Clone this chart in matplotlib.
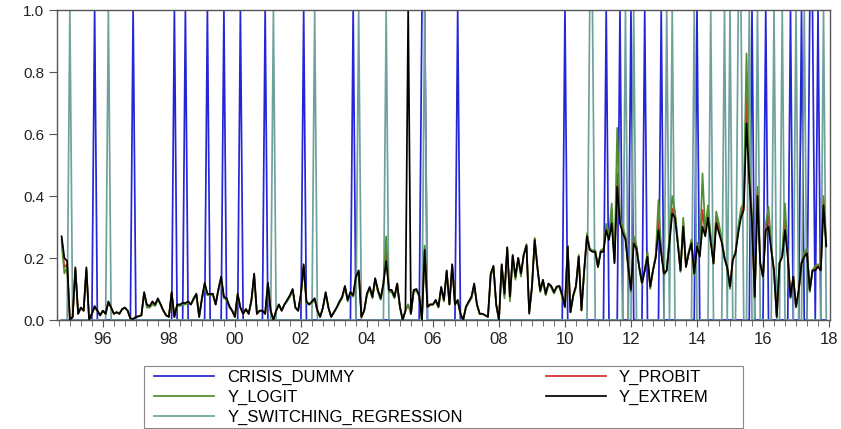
import numpy as np
import matplotlib.pyplot as plt
from matplotlib.patches import Rectangle
from matplotlib.ticker import FixedLocator, MultipleLocator

# monthly sample 1994M10 - 2017M12
start_year = 1994
start_month = 10

crisis_dummy = [
    0, 0, 0,                                        # 1994 Q4
    0, 0, 0, 0, 0, 0, 0, 0, 0, 1, 0, 0,             # 1995
    0, 0, 0, 0, 0, 0, 0, 0, 0, 0, 0, 1,             # 1996
    0, 0, 0, 0, 0, 0, 0, 0, 0, 0, 0, 0,             # 1997
    0, 0, 1, 0, 0, 0, 1, 0, 0, 0, 0, 0,             # 1998
    0, 0, 1, 0, 0, 0, 0, 0, 1, 0, 0, 0,             # 1999
    0, 0, 1, 0, 0, 0, 0, 0, 0, 0, 0, 1,             # 2000
    0, 0, 0, 0, 0, 0, 0, 0, 0, 0, 0, 0,             # 2001
    0, 1, 0, 0, 0, 0, 0, 0, 0, 0, 0, 0,             # 2002
    0, 0, 0, 0, 0, 0, 0, 1, 0, 0, 0, 0,             # 2003
    0, 0, 0, 0, 0, 0, 0, 0, 0, 0, 0, 0,             # 2004
    0, 0, 0, 0, 0, 0, 0, 0, 1, 1, 0, 0,             # 2005
    0, 0, 0, 0, 0, 0, 0, 0, 0, 1, 0, 0,             # 2006
    0, 0, 0, 0, 0, 0, 0, 0, 0, 0, 0, 0,             # 2007
    0, 0, 0, 0, 0, 0, 0, 0, 0, 0, 0, 0,             # 2008
    0, 0, 0, 0, 0, 0, 0, 0, 0, 0, 0, 0,             # 2009
    1, 0, 0, 0, 0, 0, 0, 0, 0, 0, 0, 0,             # 2010
    0, 0, 0, 1, 0, 0, 0, 0, 1, 0, 0, 0,             # 2011
    1, 0, 0, 0, 0, 1, 0, 0, 0, 0, 0, 1,             # 2012
    0, 0, 0, 0, 0, 0, 0, 0, 0, 0, 0, 0,             # 2013
    1, 0, 0, 0, 0, 0, 0, 0, 0, 0, 0, 0,             # 2014
    0, 0, 0, 0, 0, 0, 0, 0, 1, 0, 0, 0,             # 2015
    0, 1, 0, 0, 0, 0, 0, 0, 0, 0, 1, 0,             # 2016
    0, 0, 1, 0, 0, 1, 1, 0, 1, 0, 0, 0,             # 2017
]

y_switching = [
    0, 0, 0,
    1, 0, 0, 0, 0, 0, 0, 0, 0, 0, 0, 0,
    0, 0, 1, 0, 0, 0, 0, 0, 0, 0, 0, 0,
    0, 0, 0, 0, 0, 0, 0, 0, 0, 0, 0, 0,
    0, 0, 0, 0, 0, 0, 0, 0, 0, 0, 0, 0,
    0, 0, 0, 0, 0, 0, 0, 0, 0, 0, 0, 0,
    0, 0, 0, 0, 0, 0, 0, 0, 0, 0, 0, 0,
    0, 0, 1, 0, 0, 0, 0, 0, 0, 0, 0, 0,
    0, 0, 0, 0, 0, 1, 0, 0, 0, 0, 0, 0,
    0, 0, 0, 0, 0, 0, 0, 0, 0, 1, 0, 0,
    0, 0, 0, 0, 0, 0, 0, 1, 0, 0, 0, 0,
    0, 0, 0, 0, 0, 0, 0, 0, 0, 1, 0, 0,
    0, 0, 0, 0, 0, 0, 0, 0, 0, 0, 0, 0,
    0, 0, 0, 0, 0, 0, 0, 0, 0, 0, 0, 0,
    0, 0, 0, 0, 0, 0, 0, 0, 0, 0, 0, 0,
    0, 0, 0, 0, 0, 0, 0, 0, 0, 0, 0, 0,
    0, 0, 0, 0, 0, 0, 0, 0, 0, 1, 1, 0,
    0, 0, 0, 0, 0, 0, 0, 0, 0, 0, 1, 0,
    0, 1, 0, 0, 0, 0, 0, 0, 0, 0, 0, 0,
    0, 1, 0, 1, 0, 0, 0, 0, 0, 0, 0, 1,
    0, 0, 0, 0, 0, 1, 0, 0, 0, 0, 1, 0,
    1, 0, 0, 1, 1, 0, 0, 1, 0, 0, 1, 0,
    0, 0, 0, 0, 1, 0, 0, 1, 0, 0, 0, 0,
    1, 0, 0, 1, 0, 0, 0, 0, 0, 0, 1, 0,
]

y_extrem = [
    0.27, 0.20, 0.19,
    0.00, 0.01, 0.17, 0.02, 0.04, 0.03, 0.17, 0.00, 0.02, 0.045, 0.03, 0.015,
    0.03, 0.02, 0.06, 0.04, 0.02, 0.025, 0.02, 0.035, 0.04, 0.03, 0.005, 0.003,
    0.01, 0.012, 0.015, 0.09, 0.05, 0.045, 0.06, 0.05, 0.07, 0.05, 0.03, 0.015,
    0.01, 0.09, 0.01, 0.05, 0.05, 0.055, 0.055, 0.06, 0.05, 0.07, 0.085, 0.01,
    0.07, 0.12, 0.085, 0.083, 0.085, 0.05, 0.10, 0.14, 0.075, 0.07, 0.045, 0.03,
    0.01, 0.085, 0.04, 0.02, 0.035, 0.02, 0.065, 0.15, 0.02, 0.03, 0.03, 0.02,
    0.12, 0.03, 0.00, 0.03, 0.05, 0.03, 0.05, 0.065, 0.08, 0.10, 0.04, 0.03,
    0.085, 0.18, 0.06, 0.05, 0.06, 0.07, 0.03, 0.01, 0.04, 0.09, 0.04, 0.01,
    0.025, 0.04, 0.06, 0.075, 0.11, 0.065, 0.09, 0.08, 0.14, 0.16, 0.01, 0.03,
    0.085, 0.107, 0.075, 0.135, 0.097, 0.07, 0.118, 0.19, 0.097, 0.097, 0.075, 0.118,
    0.043, 0.00, 0.03, 1.00, 0.02, 0.097, 0.10, 0.08, 0.00, 0.226, 0.043, 0.05,
    0.05, 0.065, 0.043, 0.107, 0.065, 0.16, 0.05, 0.18, 0.05, 0.065, 0.02, 0.00,
    0.043, 0.06, 0.075, 0.118, 0.05, 0.02, 0.02, 0.015, 0.01, 0.15, 0.175, 0.05,
    0.00, 0.18, 0.085, 0.235, 0.075, 0.21, 0.14, 0.20, 0.15, 0.21, 0.24, 0.02,
    0.11, 0.258, 0.17, 0.095, 0.13, 0.085, 0.118, 0.11, 0.09, 0.108, 0.11, 0.08,
    0.043, 0.237, 0.025, 0.08, 0.11, 0.204, 0.032, 0.16, 0.27, 0.226, 0.22, 0.22,
    0.172, 0.22, 0.22, 0.29, 0.258, 0.312, 0.183, 0.43, 0.312, 0.28, 0.26, 0.172,
    0.097, 0.247, 0.23, 0.17, 0.12, 0.16, 0.204, 0.108, 0.16, 0.20, 0.29, 0.215,
    0.15, 0.16, 0.25, 0.344, 0.33, 0.247, 0.16, 0.301, 0.172, 0.215, 0.247, 0.15,
    0.237, 0.204, 0.301, 0.27, 0.33, 0.25, 0.183, 0.312, 0.28, 0.25, 0.20, 0.17,
    0.108, 0.194, 0.215, 0.28, 0.33, 0.355, 0.634, 0.452, 0.312, 0.075, 0.40, 0.183,
    0.14, 0.29, 0.30, 0.226, 0.16, 0.01, 0.183, 0.204, 0.29, 0.204, 0.075, 0.14,
    0.043, 0.097, 0.183, 0.204, 0.215, 0.097, 0.16, 0.16, 0.172, 0.16, 0.37, 0.237,
]

y_logit = [
    0.25, 0.15, 0.17,
    0.00, 0.01, 0.16, 0.02, 0.04, 0.03, 0.16, 0.00, 0.02, 0.04, 0.03, 0.015,
    0.03, 0.02, 0.055, 0.04, 0.02, 0.025, 0.02, 0.035, 0.04, 0.03, 0.005, 0.003,
    0.01, 0.012, 0.015, 0.085, 0.04, 0.04, 0.05, 0.045, 0.065, 0.05, 0.03, 0.015,
    0.01, 0.085, 0.01, 0.045, 0.045, 0.05, 0.05, 0.055, 0.05, 0.065, 0.08, 0.01,
    0.065, 0.11, 0.08, 0.08, 0.08, 0.05, 0.095, 0.13, 0.07, 0.065, 0.04, 0.03,
    0.01, 0.08, 0.04, 0.02, 0.035, 0.02, 0.06, 0.14, 0.02, 0.03, 0.03, 0.02,
    0.115, 0.03, 0.00, 0.03, 0.05, 0.03, 0.05, 0.06, 0.075, 0.095, 0.04, 0.03,
    0.08, 0.17, 0.055, 0.05, 0.055, 0.065, 0.03, 0.01, 0.04, 0.085, 0.04, 0.01,
    0.025, 0.04, 0.055, 0.07, 0.105, 0.06, 0.085, 0.075, 0.135, 0.155, 0.01, 0.03,
    0.08, 0.10, 0.07, 0.13, 0.09, 0.065, 0.115, 0.27, 0.09, 0.09, 0.07, 0.115,
    0.04, 0.00, 0.03, 0.05, 0.02, 0.09, 0.095, 0.075, 0.00, 0.24, 0.04, 0.05,
    0.05, 0.06, 0.04, 0.10, 0.06, 0.155, 0.05, 0.175, 0.05, 0.06, 0.02, 0.00,
    0.04, 0.055, 0.07, 0.11, 0.05, 0.02, 0.02, 0.015, 0.01, 0.14, 0.17, 0.05,
    0.00, 0.175, 0.07, 0.23, 0.06, 0.205, 0.13, 0.20, 0.14, 0.21, 0.245, 0.03,
    0.10, 0.265, 0.165, 0.09, 0.125, 0.08, 0.115, 0.105, 0.085, 0.105, 0.105, 0.075,
    0.04, 0.24, 0.025, 0.075, 0.105, 0.21, 0.03, 0.16, 0.28, 0.23, 0.225, 0.225,
    0.17, 0.225, 0.23, 0.31, 0.27, 0.376, 0.19, 0.62, 0.33, 0.30, 0.27, 0.17,
    0.09, 0.27, 0.24, 0.17, 0.115, 0.16, 0.22, 0.10, 0.16, 0.21, 0.387, 0.225,
    0.145, 0.16, 0.27, 0.40, 0.35, 0.26, 0.155, 0.33, 0.17, 0.22, 0.26, 0.145,
    0.25, 0.21, 0.473, 0.29, 0.37, 0.27, 0.18, 0.35, 0.31, 0.26, 0.20, 0.165,
    0.10, 0.195, 0.22, 0.30, 0.36, 0.38, 0.86, 0.50, 0.34, 0.07, 0.43, 0.18,
    0.135, 0.31, 0.366, 0.235, 0.155, 0.01, 0.185, 0.21, 0.376, 0.21, 0.07, 0.135,
    0.04, 0.09, 0.185, 0.22, 0.23, 0.09, 0.16, 0.175, 0.18, 0.16, 0.40, 0.245,
]

y_probit = [
    0.26, 0.17, 0.18,
    0.00, 0.01, 0.165, 0.02, 0.04, 0.03, 0.165, 0.00, 0.02, 0.042, 0.03, 0.015,
    0.03, 0.02, 0.058, 0.04, 0.02, 0.025, 0.02, 0.035, 0.04, 0.03, 0.005, 0.003,
    0.01, 0.012, 0.015, 0.088, 0.045, 0.042, 0.055, 0.048, 0.068, 0.05, 0.03, 0.015,
    0.01, 0.088, 0.01, 0.048, 0.048, 0.052, 0.052, 0.058, 0.05, 0.068, 0.082, 0.01,
    0.068, 0.115, 0.082, 0.082, 0.082, 0.05, 0.098, 0.135, 0.072, 0.068, 0.042, 0.03,
    0.01, 0.082, 0.04, 0.02, 0.035, 0.02, 0.062, 0.145, 0.02, 0.03, 0.03, 0.02,
    0.118, 0.03, 0.00, 0.03, 0.05, 0.03, 0.05, 0.062, 0.078, 0.098, 0.04, 0.03,
    0.082, 0.175, 0.058, 0.05, 0.058, 0.068, 0.03, 0.01, 0.04, 0.088, 0.04, 0.01,
    0.025, 0.04, 0.058, 0.072, 0.108, 0.062, 0.088, 0.078, 0.138, 0.158, 0.01, 0.03,
    0.082, 0.104, 0.072, 0.132, 0.094, 0.068, 0.116, 0.22, 0.094, 0.094, 0.072, 0.116,
    0.042, 0.00, 0.03, 0.05, 0.02, 0.094, 0.098, 0.078, 0.00, 0.232, 0.042, 0.05,
    0.05, 0.062, 0.042, 0.104, 0.062, 0.158, 0.05, 0.178, 0.05, 0.062, 0.02, 0.00,
    0.042, 0.058, 0.072, 0.114, 0.05, 0.02, 0.02, 0.015, 0.01, 0.145, 0.172, 0.05,
    0.00, 0.178, 0.078, 0.232, 0.068, 0.208, 0.135, 0.20, 0.145, 0.21, 0.242, 0.025,
    0.105, 0.26, 0.168, 0.092, 0.128, 0.082, 0.116, 0.108, 0.088, 0.106, 0.108, 0.078,
    0.042, 0.238, 0.025, 0.078, 0.108, 0.206, 0.031, 0.16, 0.275, 0.228, 0.222, 0.222,
    0.171, 0.222, 0.225, 0.30, 0.264, 0.33, 0.186, 0.473, 0.32, 0.29, 0.265, 0.171,
    0.094, 0.258, 0.235, 0.17, 0.118, 0.16, 0.21, 0.104, 0.16, 0.205, 0.32, 0.22,
    0.148, 0.16, 0.26, 0.36, 0.34, 0.253, 0.158, 0.315, 0.171, 0.218, 0.253, 0.148,
    0.243, 0.207, 0.355, 0.28, 0.35, 0.26, 0.182, 0.33, 0.295, 0.255, 0.20, 0.168,
    0.104, 0.194, 0.218, 0.29, 0.345, 0.367, 0.72, 0.47, 0.325, 0.072, 0.41, 0.182,
    0.138, 0.30, 0.333, 0.23, 0.158, 0.01, 0.184, 0.207, 0.33, 0.207, 0.072, 0.138,
    0.042, 0.094, 0.184, 0.212, 0.222, 0.094, 0.16, 0.168, 0.176, 0.16, 0.385, 0.241,
]

n = len(y_extrem)
t = start_year + (start_month - 1) / 12.0 + np.arange(n) / 12.0

W, H = 841, 429
fig = plt.figure(figsize=(W / 100., H / 100.), dpi=100)
ax = fig.add_axes([57./W, 1 - 320./H, (830 - 57.)/W, (320 - 10.)/H])

lw = 1.25
l_dummy, = ax.plot(t, crisis_dummy, color='#2424d8', lw=lw, label='CRISIS_DUMMY')
l_switch, = ax.plot(t, y_switching, color='#6fa19d', lw=lw, label='Y_SWITCHING_REGRESSION')
l_probit, = ax.plot(t, y_probit, color='#d42a2a', lw=lw, label='Y_PROBIT')
l_logit, = ax.plot(t, y_logit, color='#4f8f2f', lw=lw, label='Y_LOGIT')
l_extrem, = ax.plot(t, y_extrem, color='black', lw=lw, label='Y_EXTREM')

ax.set_xlim(1994.61, 2018.03)
ax.set_ylim(0, 1.0)

years = list(range(1996, 2019, 2))
ax.xaxis.set_major_locator(FixedLocator(years))
ax.set_xticklabels(['%02d' % (y % 100) for y in years])
ax.xaxis.set_minor_locator(MultipleLocator(1/3.))
ax.set_yticks([0.0, 0.2, 0.4, 0.6, 0.8, 1.0])
ax.set_yticklabels(['0.0', '0.2', '0.4', '0.6', '0.8', '1.0'])

for s in ax.spines.values():
    s.set_color('#555555')
    s.set_linewidth(1.0)
ax.tick_params(axis='both', which='both', direction='out', colors='#555555',
               labelcolor='#222222')
ax.tick_params(axis='x', which='major', length=5, pad=4, labelsize=12)
ax.tick_params(axis='x', which='minor', length=4)
ax.tick_params(axis='y', length=6, pad=3, labelsize=11)
for lab in ax.get_xticklabels() + ax.get_yticklabels():
    lab.set_family('Liberation Sans')

# legend box drawn separately so it spans the same width as in the original
box = Rectangle((144./W, 1 - 428./H), (743 - 144.)/W, (428 - 366.)/H,
                transform=fig.transFigure, facecolor='white',
                edgecolor='#888888', linewidth=0.8, zorder=1)
fig.patches.append(box)

# column 1 = dummy, logit, switching; column 2 = probit, extrem
handles = [l_dummy, l_logit, l_switch, l_probit, l_extrem]
leg = fig.legend(handles=handles, labels=[h.get_label() for h in handles],
                 ncol=2, loc='upper left',
                 bbox_to_anchor=(150./W, 1 - 366./H),
                 frameon=False, borderaxespad=0,
                 handlelength=3.6, handletextpad=0.78, labelspacing=0.28,
                 columnspacing=5.0, borderpad=0.25,
                 prop={'family': 'Liberation Sans', 'size': 12})
leg.set_zorder(2)

fig.savefig('out.png', dpi=100)
